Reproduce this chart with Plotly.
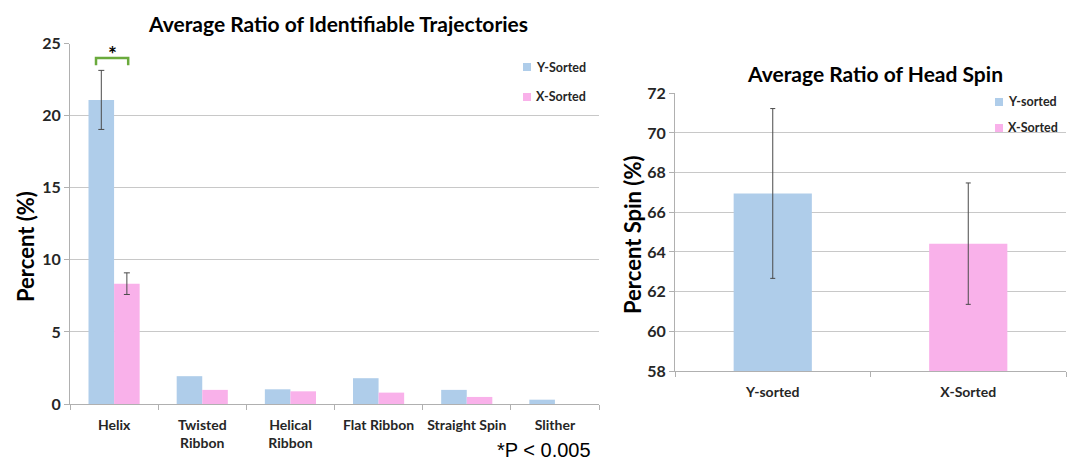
import plotly.graph_objects as go

# --- data -----------------------------------------------------------------
traj_categories = ["Helix", "Twisted<br>Ribbon", "Helical<br>Ribbon",
                   "Flat Ribbon", "Straight Spin", "Slither"]
traj_series_names = ["Y-Sorted", "X-Sorted"]
traj_y_sorted = [21.1, 1.93, 1.02, 1.79, 0.98, 0.30]
traj_x_sorted = [8.35, 0.98, 0.88, 0.79, 0.49, 0.0]
# only the Helix pair carries an error estimate
traj_y_err = [2.05]
traj_x_err = [0.75]

spin_categories = ["Y-sorted", "X-Sorted"]
spin_values = [66.95, 64.42]
spin_err = [4.28, 3.06]

BLUE = "#afcdea"
PINK = "#f9b1ea"
GRID = "#c8c8c8"
AXIS = "#b0b0b0"
ERR = "#4a4a4a"
FONT = "Lato"
W, H = 1072, 462


def px(x):
    return x / W


def py(y):
    return 1 - y / H


fig = go.Figure()

# left chart: trajectory ratios; bars with error estimates are split off
# into their own traces that share the offset group of their series
n_err = len(traj_y_err)
for name, values, errs, color, group in [
        (traj_series_names[0], traj_y_sorted, traj_y_err, BLUE, "ys"),
        (traj_series_names[1], traj_x_sorted, traj_x_err, PINK, "xs")]:
    fig.add_trace(go.Bar(
        x=traj_categories[:n_err], y=values[:n_err], name=name,
        offsetgroup=group, marker=dict(color=color, line=dict(width=0)),
        error_y=dict(type="data", array=errs, visible=True,
                     color=ERR, thickness=1, width=3),
        xaxis="x", yaxis="y", showlegend=False,
    ))
    fig.add_trace(go.Bar(
        x=traj_categories[n_err:], y=values[n_err:], name=name,
        offsetgroup=group, marker=dict(color=color, line=dict(width=0)),
        xaxis="x", yaxis="y", showlegend=False,
    ))

# right chart: head spin ratio
fig.add_trace(go.Bar(
    x=spin_categories, y=spin_values, width=[0.4, 0.4],
    marker=dict(color=[BLUE, PINK], line=dict(width=0)),
    error_y=dict(type="data", array=spin_err, visible=True,
                 color=ERR, thickness=1, width=2.5),
    xaxis="x2", yaxis="y2", showlegend=False,
))

tick_font = dict(family=FONT, size=16, color="#262626", weight="bold")
cat_font = dict(family=FONT, size=14, color="#262626", weight="bold")

common_axis = dict(showline=True, linecolor=AXIS, linewidth=1,
                   ticks="outside", ticklen=5, tickcolor=AXIS,
                   automargin=False, fixedrange=True)

fig.update_layout(
    width=W, height=H,
    margin=dict(l=0, r=0, t=0, b=0, autoexpand=False),
    paper_bgcolor="white", plot_bgcolor="white",
    barmode="group", bargap=0.42, bargroupgap=0,
    xaxis=dict(domain=[px(70), px(599)], tickson="boundaries",
               tickangle=0, tickfont=cat_font, ticklabelstandoff=8,
               showgrid=False, **common_axis),
    yaxis=dict(domain=[py(404), py(43.7)], range=[0, 25], dtick=5,
               gridcolor=GRID, tickfont=tick_font, zeroline=False,
               **common_axis),
    xaxis2=dict(domain=[px(675), px(1066)], anchor="y2",
                tickson="boundaries", tickangle=0, tickfont=cat_font,
                ticklabelstandoff=8, showgrid=False, **common_axis),
    yaxis2=dict(domain=[py(371), py(93.3)], anchor="x2", range=[58, 72],
                dtick=2, gridcolor=GRID, tickfont=tick_font, zeroline=False,
                **common_axis),
)

annotations = []
shapes = []

title_font = dict(family=FONT, size=21, color="#000000", weight="bold")
annotations.append(dict(text="Average Ratio of Identifiable Trajectories",
                        x=px(338), y=py(23), xref="paper", yref="paper",
                        showarrow=False, font=title_font,
                        xanchor="center", yanchor="middle"))
annotations.append(dict(text="Average Ratio of Head Spin",
                        x=px(875), y=py(73), xref="paper", yref="paper",
                        showarrow=False, font=title_font,
                        xanchor="center", yanchor="middle"))

axis_title_font = dict(family=FONT, size=22, color="#000000", weight="bold")
annotations.append(dict(text="Percent (%)", x=px(25), y=py(247),
                        xref="paper", yref="paper", showarrow=False,
                        textangle=-90, font=axis_title_font,
                        xanchor="center", yanchor="middle"))
annotations.append(dict(text="Percent Spin (%)", x=px(632), y=py(235),
                        xref="paper", yref="paper", showarrow=False,
                        textangle=-90, font=axis_title_font,
                        xanchor="center", yanchor="middle"))

# p-value note
annotations.append(dict(text="*P < 0.005", x=px(593), y=py(450),
                        xref="paper", yref="paper", showarrow=False,
                        font=dict(family="Liberation Sans", size=20,
                                  color="#000000"),
                        xanchor="right", yanchor="middle"))

# significance bracket over the Helix pair
shapes.append(dict(type="path", xref="x", yref="y",
                   path="M -0.205,23.5 L -0.205,24.0 L 0.16,24.0 L 0.16,23.5",
                   line=dict(color="#6aaa3c", width=2.5)))
annotations.append(dict(text="*", x=-0.02, y=24.3, xref="x", yref="y",
                        showarrow=False,
                        font=dict(family=FONT, size=21, color="#000000",
                                  weight="bold"),
                        xanchor="center", yanchor="middle"))

# legends
legend_font = dict(family=FONT, size=12.5, color="#262626", weight="bold")
legend_items = [
    (traj_series_names[0], BLUE, 527, 67),
    (traj_series_names[1], PINK, 527, 97),
    (spin_categories[0], BLUE, 999, 102),
    (spin_categories[1], PINK, 999, 128),
]
for label, color, lx, ly in legend_items:
    shapes.append(dict(type="rect", xref="paper", yref="paper",
                       x0=px(lx - 4), x1=px(lx + 4),
                       y0=py(ly + 4), y1=py(ly - 4),
                       fillcolor=color, line=dict(width=0)))
    annotations.append(dict(text=label, x=px(lx + 7), y=py(ly),
                            xref="paper", yref="paper", showarrow=False,
                            font=legend_font, xanchor="left",
                            yanchor="middle"))

fig.update_layout(annotations=annotations, shapes=shapes)

fig.write_html("out.html")
